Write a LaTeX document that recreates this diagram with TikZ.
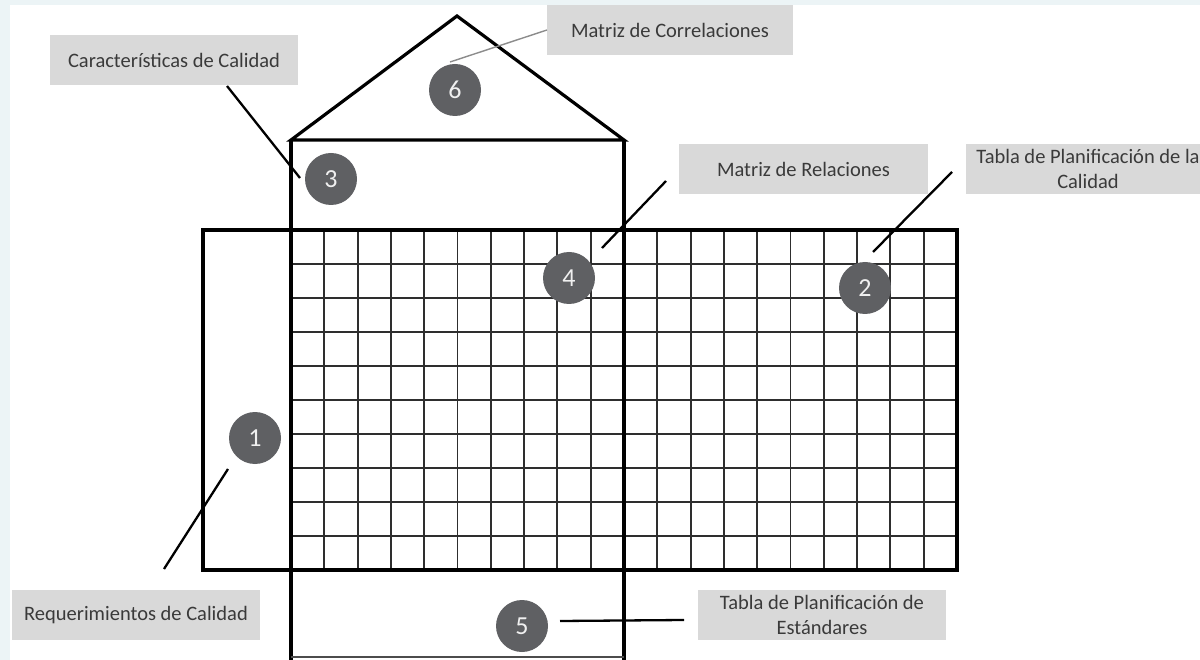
\documentclass[tikz,border=0pt]{standalone}
\usepackage{fontspec}
\setmainfont{Carlito}
\definecolor{bgstrip}{RGB}{236,244,246}
\definecolor{labelfill}{RGB}{217,217,217}
\definecolor{labeltext}{RGB}{58,58,58}
\definecolor{circfill}{RGB}{95,96,99}
\definecolor{leadgray}{RGB}{140,140,140}
\begin{document}
\begin{tikzpicture}[x=1pt,y=-1pt,
  labelbox/.style={fill=labelfill, text=labeltext, minimum height=50pt, inner sep=0pt,
    align=center, font=\fontsize{20.5}{24.5}\selectfont},
  numcirc/.style={circle, fill=circfill, minimum size=52pt, inner sep=0pt, text=white!94!black,
    font=\fontsize{26}{26}\selectfont},
  frameline/.style={line width=3.2pt, black},
  gridline/.style={line width=1.9pt, black!82},
  leader/.style={line width=2.3pt, black},
  thinleader/.style={line width=1.4pt, leadgray}]
\useasboundingbox (0,0) rectangle (1200,660);
\fill[white] (0,0) rectangle (1200,660);
\fill[bgstrip] (0,0) rectangle (10,660);
\fill[bgstrip] (0,0) rectangle (1200,5);
% grid
\foreach \k in {1,...,9,11,12,...,19} {
  \draw[gridline] ({291+\k*33.3},230) -- ({291+\k*33.3},570);
}
\foreach \j in {1,...,9} {
  \draw[gridline] (291,{230+\j*34}) -- (957,{230+\j*34});
}
% frames
\draw[frameline] (203,230) rectangle (957,570);
\draw[frameline, line join=miter] (291,140) -- (457,16) -- (624,140) -- cycle;
\draw[frameline] (291,140) -- (291,660);
\draw[frameline] (624,140) -- (624,660);
\draw[line width=1.6pt, black!70] (291,657) -- (624,657);
% labels
\node[labelbox, minimum width=248pt] (L3) at (174,60) {Características de Calidad};
\node[labelbox, minimum width=246pt] (L6) at (670,30) {Matriz de Correlaciones};
\node[labelbox, minimum width=249pt] (L4) at (803.5,169) {Matriz de Relaciones};
\node[labelbox, minimum width=244pt] (L2) at (1088,169) {Tabla de Planificación de la\\Calidad};
\node[labelbox, minimum width=248pt] (L1) at (136,615) {Requerimientos de Calidad};
\node[labelbox, minimum width=248pt] (L5) at (822,615) {Tabla de Planificación de\\Estándares};
% circles
\node[numcirc] (c1) at (255,438) {1};
\node[numcirc] (c2) at (865,288) {2};
\node[numcirc] (c3) at (331,179) {3};
\node[numcirc] (c4) at (569,278) {4};
\node[numcirc] (c5) at (522,626) {5};
\node[numcirc] (c6) at (455,90) {6};
% leader ends
\coordinate (a3) at (227,86);  \coordinate (b3) at (300,178);
\coordinate (a6) at (547,30);  \coordinate (b6) at (450,62);
\coordinate (a4) at (666,181); \coordinate (b4) at (602,248);
\coordinate (a2) at (952,172); \coordinate (b2) at (873,252);
\coordinate (a1) at (228,469); \coordinate (b1) at (164,569);
\coordinate (a5) at (560,621); \coordinate (b5) at (684,620);
\draw[leader] (a3) -- (b3);
\draw[thinleader] (a6) -- (b6);
\draw[leader] (a4) -- (b4);
\draw[leader] (a2) -- (b2);
\draw[leader] (a1) -- (b1);
\draw[leader] (a5) -- (b5);
\end{tikzpicture}
\end{document}
